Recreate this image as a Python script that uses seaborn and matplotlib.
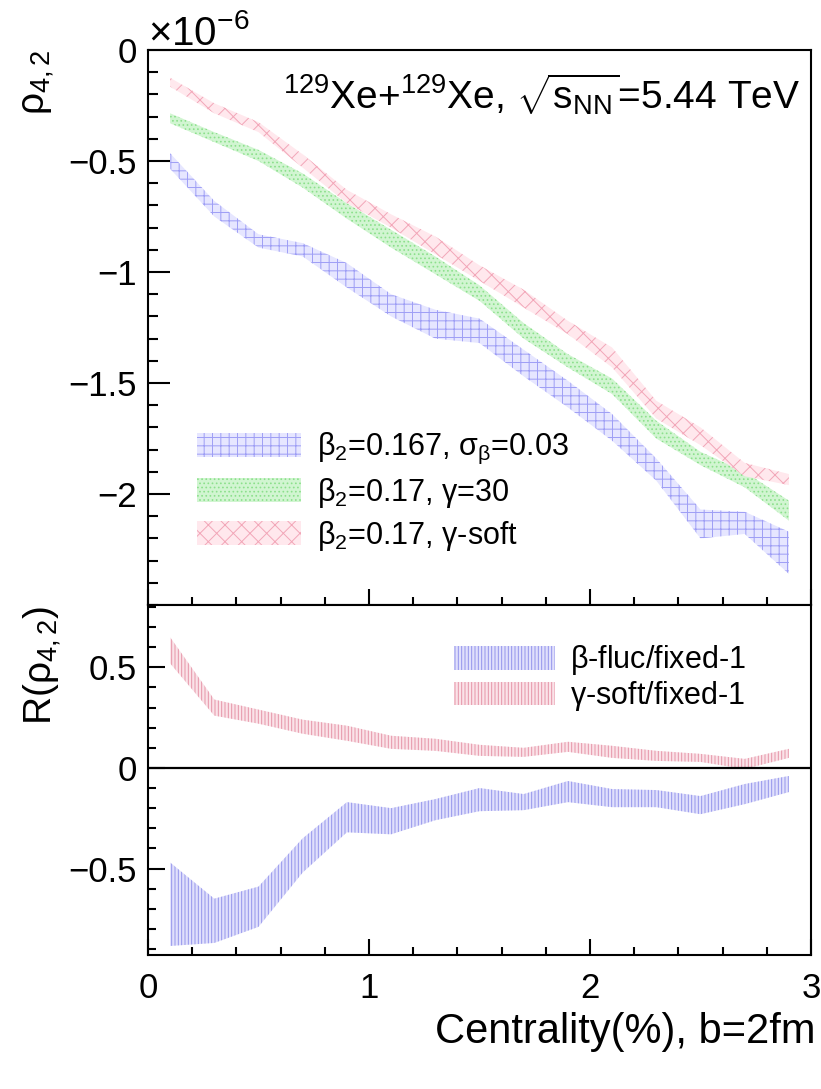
import numpy as np
import pandas as pd
import matplotlib
matplotlib.use("Agg")
import matplotlib.pyplot as plt
import seaborn as sns
from matplotlib.patches import Patch
from matplotlib.ticker import FixedLocator, MultipleLocator, FuncFormatter

# ---------------- data ----------------
centrality = [0.1, 0.3, 0.5, 0.7, 0.9, 1.1, 1.3, 1.5, 1.7, 1.9, 2.1, 2.3, 2.5, 2.7, 2.9]

# rho_{4,2} bands (units of 1e-6): upper / lower edges
beta_fluc_hi = [-0.465, -0.68, -0.83, -0.87, -0.96, -1.10, -1.17, -1.21, -1.35, -1.49, -1.64, -1.84, -2.07, -2.08, -2.17]
beta_fluc_lo = [-0.535, -0.75, -0.89, -0.93, -1.07, -1.20, -1.30, -1.32, -1.47, -1.61, -1.76, -1.94, -2.20, -2.18, -2.36]

gamma30_hi = [-0.285, -0.37, -0.45, -0.556, -0.69, -0.81, -0.93, -1.06, -1.23, -1.37, -1.48, -1.67, -1.81, -1.90, -2.03]
gamma30_lo = [-0.33, -0.415, -0.50, -0.62, -0.76, -0.89, -1.01, -1.13, -1.30, -1.43, -1.55, -1.75, -1.87, -1.97, -2.12]

gsoft_hi = [-0.125, -0.24, -0.325, -0.47, -0.63, -0.74, -0.84, -0.97, -1.08, -1.22, -1.34, -1.58, -1.70, -1.86, -1.91]
gsoft_lo = [-0.165, -0.285, -0.37, -0.53, -0.69, -0.80, -0.92, -1.04, -1.16, -1.28, -1.43, -1.66, -1.78, -1.92, -1.96]

# ratio bands R(rho_{4,2})
r_bfluc_hi = [-0.47, -0.65, -0.59, -0.35, -0.17, -0.20, -0.155, -0.10, -0.13, -0.065, -0.105, -0.11, -0.14, -0.08, -0.04]
r_bfluc_lo = [-0.885, -0.87, -0.79, -0.52, -0.32, -0.33, -0.26, -0.215, -0.21, -0.17, -0.195, -0.195, -0.23, -0.18, -0.12]

r_gsoft_hi = [0.65, 0.34, 0.29, 0.24, 0.21, 0.16, 0.145, 0.115, 0.10, 0.13, 0.11, 0.085, 0.07, 0.045, 0.095]
r_gsoft_lo = [0.52, 0.26, 0.22, 0.17, 0.135, 0.095, 0.085, 0.06, 0.055, 0.08, 0.05, 0.035, 0.03, -0.005, 0.05]

top_labels = [r"$\beta_2$=0.167, $\sigma_\beta$=0.03",
              r"$\beta_2$=0.17, $\gamma$=30",
              r"$\beta_2$=0.17, $\gamma$-soft"]
bottom_labels = [r"$\beta$-fluc/fixed-1", r"$\gamma$-soft/fixed-1"]

x_ticks = [0, 1, 2, 3]
top_yticks = [0, -0.5, -1, -1.5, -2]
bot_yticks = [-0.5, 0, 0.5]

# ---------------- style ----------------
sns.set_theme(style="ticks")
plt.rcParams["font.family"] = ["Liberation Sans", "DejaVu Sans"]
plt.rcParams["mathtext.fontset"] = "custom"
plt.rcParams["mathtext.rm"] = "Liberation Sans"
plt.rcParams["mathtext.it"] = "Liberation Sans"
plt.rcParams["mathtext.bf"] = "Liberation Sans:bold"
plt.rcParams["mathtext.sf"] = "Liberation Sans"
plt.rcParams["mathtext.default"] = "regular"
plt.rcParams["hatch.linewidth"] = 0.7
for k in ["text.color", "axes.labelcolor", "xtick.color", "ytick.color", "axes.edgecolor"]:
    plt.rcParams[k] = "black"

df_top = pd.DataFrame({"x": centrality,
                       "b_hi": beta_fluc_hi, "b_lo": beta_fluc_lo,
                       "g_hi": gamma30_hi, "g_lo": gamma30_lo,
                       "s_hi": gsoft_hi, "s_lo": gsoft_lo})
df_bot = pd.DataFrame({"x": centrality,
                       "b_hi": r_bfluc_hi, "b_lo": r_bfluc_lo,
                       "s_hi": r_gsoft_hi, "s_lo": r_gsoft_lo})

W, H = 821, 1089
fig = plt.figure(figsize=(W / 100, H / 100), dpi=100)
L, R = 148, 811
ax1 = fig.add_axes([L / W, 1 - 605 / H, (R - L) / W, 555 / H])
ax2 = fig.add_axes([L / W, 1 - 955 / H, (R - L) / W, 350 / H])

styles_top = [
    dict(face=(0.90, 0.90, 1.00), edge=(0.62, 0.62, 0.96), hatch="++"),
    dict(face=(0.82, 0.96, 0.82), edge=(0.55, 0.88, 0.55), hatch="...."),
    dict(face=(1.00, 0.91, 0.93), edge=(0.95, 0.65, 0.72), hatch="xx"),
]
styles_bot = [
    dict(face=(0.88, 0.88, 0.99), edge=(0.58, 0.58, 0.92), hatch="|||||"),
    dict(face=(0.98, 0.89, 0.91), edge=(0.90, 0.58, 0.66), hatch="|||||"),
]

# top panel bands
for (hi, lo), st in zip([("b_hi", "b_lo"), ("g_hi", "g_lo"), ("s_hi", "s_lo")], styles_top):
    ax1.fill_between(df_top["x"], df_top[lo], df_top[hi], facecolor=st["face"],
                     edgecolor=st["edge"], hatch=st["hatch"], linewidth=0)
# bottom panel bands
for (hi, lo), st in zip([("b_hi", "b_lo"), ("s_hi", "s_lo")], styles_bot):
    ax2.fill_between(df_bot["x"], df_bot[lo], df_bot[hi], facecolor=st["face"],
                     edgecolor=st["edge"], hatch=st["hatch"], linewidth=0)
ax2.axhline(0, color="black", lw=1.6, zorder=3)

ax1.set_xlim(0, 3)
ax2.set_xlim(0, 3)
ax1.set_ylim(-2.5, 0)
ax2.set_ylim(-0.93, 0.81)

def root_fmt(v, pos):
    s = "%g" % v
    if s == "-0":
        s = "0"
    return s.replace("-", "\u2212")

for ax in (ax1, ax2):
    ax.xaxis.set_major_locator(FixedLocator(x_ticks))
    ax.xaxis.set_minor_locator(MultipleLocator(0.2))
    ax.yaxis.set_minor_locator(MultipleLocator(0.1))
    ax.yaxis.set_major_formatter(FuncFormatter(root_fmt))
    ax.xaxis.set_major_formatter(FuncFormatter(root_fmt))
    for sp in ax.spines.values():
        sp.set_linewidth(1.5)
        sp.set_color("black")
    ax.tick_params(axis="both", which="both", direction="in", width=1.5,
                   colors="black", labelsize=25, top=False, right=False)
    ax.set_xlabel("")
    ax.set_ylabel("")
    ax.grid(False)

ax1.yaxis.set_major_locator(FixedLocator(top_yticks))
ax2.yaxis.set_major_locator(FixedLocator(bot_yticks))
ax1.tick_params(axis="y", which="major", length=16, pad=8)
ax1.tick_params(axis="y", which="minor", length=7.5)
ax1.tick_params(axis="x", which="major", length=11.5, labelbottom=False)
ax1.tick_params(axis="x", which="minor", length=6)
ax2.tick_params(axis="y", which="major", length=12, pad=8)
ax2.tick_params(axis="y", which="minor", length=6)
ax2.tick_params(axis="x", which="major", length=11.5, pad=12)
ax2.tick_params(axis="x", which="minor", length=6)

# legends
h_top = [Patch(facecolor=st["face"], edgecolor=st["edge"], hatch=st["hatch"], linewidth=0)
         for st in styles_top]
leg1 = ax1.legend(h_top, top_labels, loc="upper left", bbox_to_anchor=(0.055, 0.335),
                  frameon=False, fontsize=22, handlelength=3.4, handleheight=0.85,
                  handletextpad=0.55, labelspacing=0.3, borderaxespad=0)
h_bot = [Patch(facecolor=st["face"], edgecolor=st["edge"], hatch=st["hatch"], linewidth=0)
         for st in styles_bot]
leg2 = ax2.legend(h_bot, bottom_labels, loc="upper left", bbox_to_anchor=(0.443, 0.925),
                  frameon=False, fontsize=22, handlelength=3.3, handleheight=0.8,
                  handletextpad=0.5, labelspacing=0.05, borderaxespad=0)

# texts
fig.text(800 / W, 1 - 95 / H, r"$^{129}$Xe+$^{129}$Xe, $\sqrt{s_{NN}}$=5.44 TeV",
         ha="right", va="center", fontsize=28)
fig.text(L / W, 1 - 45 / H, r"$\times$10$^{-6}$", ha="left", va="baseline", fontsize=29)
fig.text(38 / W, 1 - 50 / H, r"$\rho_{4,2}$", rotation=90, ha="center", va="top", fontsize=28)
fig.text(42 / W, 1 - 606 / H, r"R($\rho_{4,2}$)", rotation=90, ha="center", va="top", fontsize=28)
fig.text(815 / W, 1 - 1032 / H, "Centrality(%), b=2fm", ha="right", va="center", fontsize=30)

fig.savefig("out.png", dpi=100)
